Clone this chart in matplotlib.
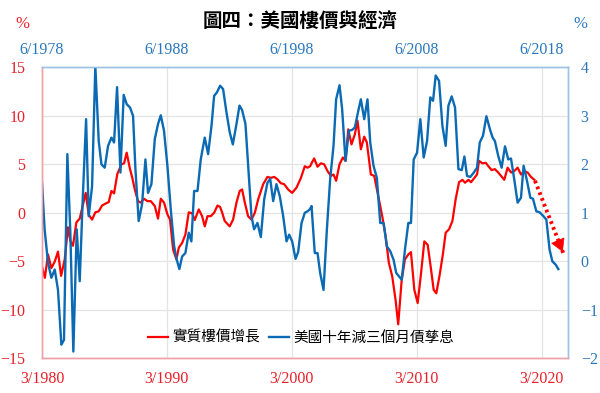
import matplotlib
matplotlib.use('Agg')
import matplotlib.pyplot as plt

# real house price growth (%), left axis
red_dates = [1980.12, 1980.4, 1980.65, 1980.92, 1981.2, 1981.45, 1981.7, 1981.99, 1982.25, 1982.44,
             1982.65, 1982.92, 1983.19, 1983.45, 1983.67, 1983.91, 1984.18, 1984.44, 1984.71, 1984.98,
             1985.33, 1985.51, 1985.73, 1985.94, 1986.2, 1986.53, 1986.74, 1986.95, 1987.2, 1987.4,
             1987.6, 1987.86, 1988.07, 1988.34, 1988.61, 1988.88, 1989.2, 1989.46, 1989.68, 1989.94,
             1990.21, 1990.42, 1990.67, 1990.93, 1991.12, 1991.39, 1991.65, 1991.92, 1992.19, 1992.4,
             1992.72, 1992.99, 1993.2, 1993.42, 1993.68, 1993.95, 1994.22, 1994.43, 1994.6, 1994.8,
             1995.2, 1995.47, 1995.74, 1996.0, 1996.19, 1996.41, 1996.67, 1996.94, 1997.21, 1997.48,
             1997.88, 1998.22, 1998.49, 1998.76, 1999.02, 1999.29, 1999.56, 1999.88, 2000.2, 2000.55,
             2000.9, 2001.21, 2001.43, 2001.64, 2001.75, 2001.96, 2002.23, 2002.5, 2002.76, 2003.03,
             2003.3, 2003.51, 2003.72, 2003.99, 2004.26, 2004.47, 2004.69, 2004.95, 2005.22, 2005.43,
             2005.7, 2005.97, 2006.18, 2006.5, 2006.77, 2007.09, 2007.41, 2007.68, 2007.94, 2008.21,
             2008.48, 2008.69, 2008.97, 2009.23, 2009.5, 2009.71, 2009.98, 2010.25, 2010.52, 2010.78,
             2011.05, 2011.32, 2011.53, 2011.74, 2012.01, 2012.28, 2012.49, 2012.76, 2013.03, 2013.29,
             2013.56, 2013.83, 2014.04, 2014.31, 2014.52, 2014.79, 2015.0, 2015.16, 2015.43, 2015.7,
             2015.91, 2016.17, 2016.43, 2016.7, 2017.18, 2017.45, 2017.72, 2017.98, 2018.25, 2018.52,
             2018.78, 2019.05, 2019.32, 2019.59]
red_vals = [-5.3, -6.7, -4.3, -5.7, -5.0, -4.0, -6.5, -4.8, -1.5, -2.9,
            -3.4, -1.0, -0.6, 0.85, 2.05, -0.2, -0.7, 0.05, 0.15, 0.75,
            1.0, 1.1, 2.25, 2.0, 4.0, 5.0, 5.1, 6.2, 4.6, 3.6,
            2.4, 1.2, 1.05, 1.45, 1.2, 1.2, 0.7, -0.6, 1.45, 1.05,
            -0.15, -0.7, -3.8, -4.8, -3.6, -3.1, -2.25, 0.05, -0.05, -0.75,
            0.35, -0.35, -1.4, -0.35, -0.35, 0.0, 0.75, 0.6, 0.0, -0.85,
            -1.4, -0.7, 1.05, 2.25, 2.4, 1.05, -0.35, -0.7, 0.0, 1.4,
            2.95, 3.7, 3.6, 3.7, 3.45, 3.05, 2.95, 2.4, 2.05, 2.6,
            3.6, 4.8, 4.65, 4.8, 5.1, 5.6, 4.75, 5.1, 5.0, 4.3,
            3.8, 3.95, 3.3, 5.0, 5.7, 5.35, 8.6, 7.05, 8.1, 9.5,
            6.55, 7.85, 7.25, 3.95, 3.8, 1.7, -0.35, -2.4, -5.15, -6.55,
            -9.0, -11.5, -6.9, -4.8, -4.3, -4.05, -7.95, -9.3, -6.2, -2.95,
            -3.3, -5.85, -7.95, -8.3, -6.4, -4.15, -2.05, -1.7, -0.85, 1.4,
            3.15, 3.4, 3.1, 3.4, 3.15, 3.6, 3.95, 5.35, 5.1, 5.15,
            4.8, 4.4, 4.5, 4.15, 3.4, 4.65, 4.15, 4.3, 4.65, 3.95,
            4.3, 4.15, 3.7, 3.4]

# projection (dotted arrow)
proj_dates = [2019.64, 2021.95]
proj_vals = [3.3, -4.3]

# US 10y minus 3m yield spread (%), right axis, shifted lead
blue_dates = [1980.17, 1980.38, 1980.65, 1980.92, 1981.19, 1981.45, 1981.72, 1981.93, 1982.2, 1982.44,
              1982.68, 1982.95, 1983.19, 1983.43, 1983.7, 1983.91, 1984.18, 1984.44, 1984.71, 1984.93,
              1985.19, 1985.46, 1985.73, 1985.94, 1986.18, 1986.45, 1986.71, 1986.95, 1987.22, 1987.46,
              1987.65, 1987.91, 1988.18, 1988.45, 1988.66, 1988.93, 1989.2, 1989.46, 1989.68, 1989.94,
              1990.21, 1990.48, 1990.75, 1990.96, 1991.17, 1991.39, 1991.65, 1991.92, 1992.13, 1992.35,
              1992.62, 1992.88, 1993.2, 1993.47, 1993.74, 1993.95, 1994.17, 1994.43, 1994.67, 1994.94,
              1995.2, 1995.45, 1995.74, 1995.98, 1996.19, 1996.46, 1996.73, 1996.94, 1997.15, 1997.42,
              1997.69, 1997.96, 1998.22, 1998.44, 1998.68, 1998.94, 1999.21, 1999.48, 1999.75, 1999.96,
              2000.2, 2000.47, 2000.68, 2000.95, 2001.21, 2001.43, 2001.64, 2001.75, 2002.01, 2002.23,
              2002.44, 2002.71, 2002.98, 2003.24, 2003.51, 2003.72, 2003.99, 2004.2, 2004.47, 2004.74,
              2005.01, 2005.22, 2005.49, 2005.7, 2005.97, 2006.23, 2006.45, 2006.71, 2006.98, 2007.25,
              2007.52, 2007.78, 2008.05, 2008.32, 2008.53, 2008.85, 2008.97, 2009.23, 2009.5, 2009.71,
              2009.93, 2010.2, 2010.46, 2010.73, 2011.0, 2011.26, 2011.48, 2011.69, 2011.96, 2012.23,
              2012.49, 2012.71, 2012.97, 2013.24, 2013.51, 2013.78, 2013.99, 2014.2, 2014.47, 2014.74,
              2015.0, 2015.22, 2015.48, 2015.75, 2016.07, 2016.25, 2016.43, 2016.7, 2016.97, 2017.24,
              2017.5, 2017.72, 2017.98, 2018.25, 2018.52, 2018.73, 2019.0, 2019.27, 2019.48, 2019.75,
              2020.01, 2020.28, 2020.55, 2020.81, 2021.03, 2021.3, 2021.51]
blue_vals = [1.62, 0.66, -0.03, -0.34, -0.17, -0.59, -1.72, -1.62, 2.21, 0.59,
             -1.86, 0.66, -0.41, 1.28, 2.93, 0.93, 1.55, 4.03, 2.48, 2.0,
             1.93, 2.38, 2.55, 2.45, 3.59, 1.83, 3.43, 3.24, 3.17, 3.0,
             1.9, 0.83, 1.17, 2.1, 1.41, 1.59, 2.52, 2.83, 3.01, 2.69,
             1.97, 1.07, 0.31, 0.03, -0.16, 0.1, 0.17, 0.59, 0.41, 1.45,
             1.45, 2.1, 2.55, 2.21, 2.79, 3.41, 3.48, 3.62, 3.55, 3.07,
             2.66, 2.41, 2.83, 3.21, 3.12, 2.83, 1.76, 0.93, 0.66, 0.79,
             0.5, 1.28, 1.62, 1.7, 1.24, 1.59, 1.34, 0.93, 0.41, 0.55,
             0.41, 0.05, 0.19, 0.79, 1.0, 1.03, 1.08, 1.14, 0.17, 0.17,
             -0.24, -0.59, 0.66, 1.69, 2.38, 3.34, 3.63, 3.14, 2.07, 2.69,
             2.71, 2.76, 3.1, 3.34, 2.93, 3.34, 2.45, 1.97, 1.72, 0.79,
             0.79, 0.31, 0.21, 0.03, -0.24, -0.34, -0.38, 0.24, 0.79, 0.79,
             2.1, 2.24, 2.93, 2.14, 2.48, 3.38, 3.31, 3.83, 3.72, 2.79,
             2.38, 3.21, 3.4, 3.17, 1.9, 1.88, 2.16, 1.76, 1.74, 1.83,
             1.93, 2.45, 2.59, 2.99, 2.69, 2.55, 2.48, 2.17, 1.93, 2.37,
             2.1, 2.12, 1.69, 1.21, 1.31, 1.97, 1.66, 1.31, 1.29, 1.03,
             1.01, 0.94, 0.86, 0.24, 0.0, -0.07, -0.16]

tick_pos = [1980.17, 1990.17, 2000.17, 2010.17, 2020.17]
bottom_labels = ['3/1980', '3/1990', '3/2000', '3/2010', '3/2020']
top_labels = ['6/1978', '6/1988', '6/1998', '6/2008', '6/2018']
left_ticks = [-15, -10, -5, 0, 5, 10, 15]
right_ticks = [-2, -1, 0, 1, 2, 3, 4]

red = '#ff0000'
blue = '#0a6ab4'
red_txt = '#e8202a'
blue_txt = '#2a78bc'
serif = 'Liberation Serif'
cjk = ['Noto Sans CJK TC', 'DejaVu Sans']

fig = plt.figure(figsize=(6, 3.93), dpi=100)
ax = fig.add_axes([0.07, 0.0883, 0.877, 0.7405])
ax2 = ax.twinx()

ax.plot(red_dates, red_vals, color=red, lw=1.6, label='實質樓價增長')
ax.plot(proj_dates, proj_vals, color=red, lw=2.8, linestyle=(0, (0.7, 0.9)))
ax.annotate('', xy=(proj_dates[1], proj_vals[1]),
            xytext=(proj_dates[1] - 0.4, proj_vals[1] + 1.2),
            arrowprops=dict(arrowstyle='-|>,head_length=0.7,head_width=0.4',
                            color=red, lw=0.5, mutation_scale=12))
ax2.plot(blue_dates, blue_vals, color=blue, lw=1.7, label='美國十年減三個月債孳息')

ax.set_xlim(1980.17, 2022.3)
ax.set_ylim(-15, 15)
ax2.set_ylim(-2, 4)
ax.set_xticks(tick_pos)
ax.set_xticklabels(bottom_labels)
ax.set_yticks(left_ticks)
ax2.set_yticks(right_ticks)

ax.grid(True, color='#e4e4e4', lw=0.9)
ax.set_axisbelow(True)

for lab in ax.get_xticklabels() + ax.get_yticklabels():
    lab.set_family(serif)
    lab.set_color(red_txt)
    lab.set_fontsize(11.5)
for lab in ax2.get_yticklabels():
    lab.set_family(serif)
    lab.set_color(blue_txt)
    lab.set_fontsize(11.5)
ax.tick_params(axis='x', length=0, pad=9)
ax.tick_params(axis='y', length=0, pad=12)
ax2.tick_params(axis='y', length=0, pad=9)

top = ax.secondary_xaxis('top')
top.set_xticks(tick_pos)
top.set_xticklabels(top_labels, family=serif, color=blue_txt, fontsize=11.5)
top.tick_params(length=0, pad=7)
top.spines['top'].set_visible(False)

for a in (ax, ax2):
    a.spines['left'].set_color('#f0a0a8')
    a.spines['bottom'].set_color('#f0a0a8')
    a.spines['top'].set_color('#9cc3e4')
    a.spines['right'].set_color('#9cc3e4')
    for s in a.spines.values():
        s.set_linewidth(1.0)

fig.text(0.5, 0.945, '圖四：美國樓價與經濟', ha='center', va='center',
         fontsize=14, fontweight='bold', family=cjk)
fig.text(0.038, 0.94, '%', ha='center', va='center', color=red_txt, fontsize=12, family=serif)
fig.text(0.968, 0.94, '%', ha='center', va='center', color=blue_txt, fontsize=12, family=serif)

h1, l1 = ax.get_legend_handles_labels()
h2, l2 = ax2.get_legend_handles_labels()
fig.legend(h1 + h2, l1 + l2, loc='center', bbox_to_anchor=(0.502, 0.14), ncol=2,
           frameon=False, handlelength=1.4, handletextpad=0.3, columnspacing=0.6,
           prop={'family': cjk, 'size': 10.5})

fig.savefig('out.png', dpi=100)
